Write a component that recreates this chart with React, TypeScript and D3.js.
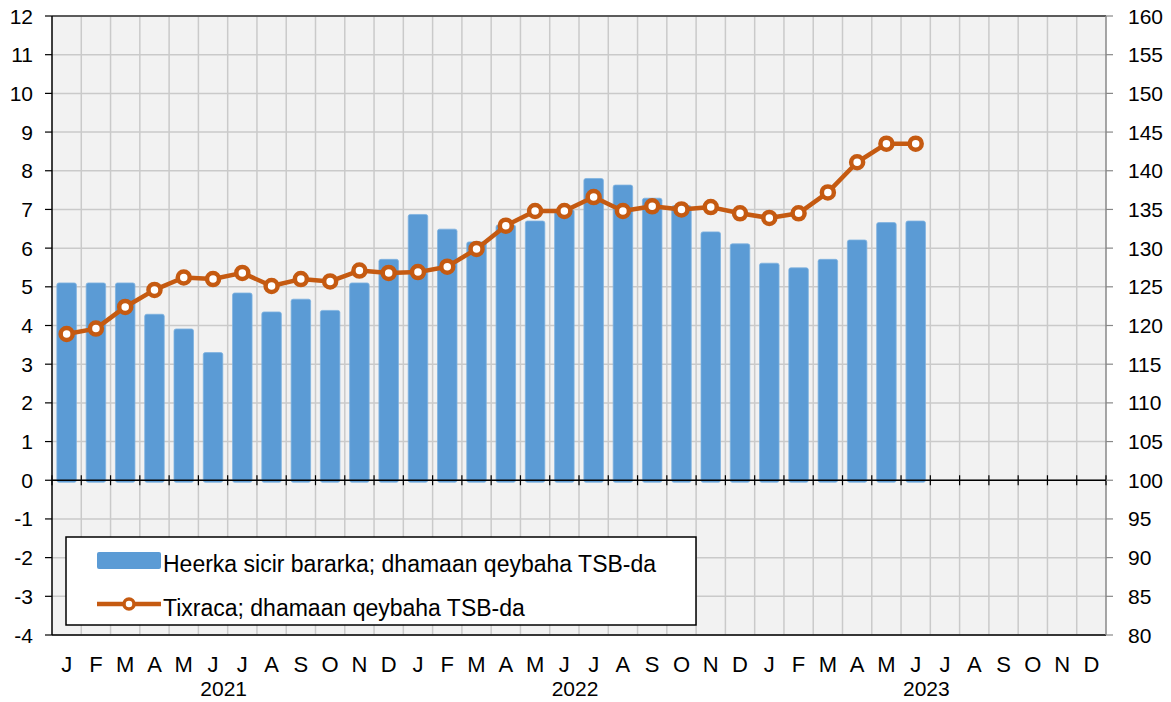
import React from "react";
import * as d3 from "d3";

const months = ["J", "F", "M", "A", "M", "J", "J", "A", "S", "O", "N", "D"];
const years = ["2021", "2022", "2023"];

// Heerka sicir bararka (left axis, %)
const inflation = [
  5.1, 5.1, 5.1, 4.29, 3.91, 3.3, 4.84, 4.35, 4.68, 4.39, 5.1, 5.71,
  6.87, 6.49, 6.16, 6.6, 6.7, 7.0, 7.8, 7.63, 7.29, 7.1, 6.42, 6.11,
  5.61, 5.49, 5.71, 6.21, 6.66, 6.7,
];

// Tixraca (right axis, index)
const index = [
  118.9, 119.6, 122.4, 124.6, 126.2, 126.0, 126.8, 125.1, 126.0, 125.7, 127.1, 126.8,
  126.9, 127.6, 129.9, 132.9, 134.8, 134.8, 136.6, 134.8, 135.4, 135.0, 135.3, 134.5,
  133.9, 134.5, 137.2, 141.1, 143.5, 143.5,
];

const leftTicks = d3.range(-4, 13, 1);
const rightTicks = d3.range(80, 161, 5);

const W = 1171;
const H = 702;
const m = { left: 52, right: 1106, top: 16, bottom: 635 };
const font = "'Liberation Sans', Arial, sans-serif";
const barColor = "#5B9BD5";
const lineColor = "#C55A11";

export default function App() {
  const slots = years.flatMap((y) => months.map((mo) => `${mo}-${y}`));
  const x = d3
    .scaleBand<number>()
    .domain(d3.range(slots.length))
    .range([m.left, m.right]);
  const step = x.step();
  const yL = d3.scaleLinear().domain([-4, 12]).range([m.bottom, m.top]);
  const yR = d3.scaleLinear().domain([80, 160]).range([m.bottom, m.top]);
  const barW = 19.5;
  const cx = (i: number) => (x(i) as number) + step / 2;

  const line = d3
    .line<number>()
    .x((_, i) => cx(i))
    .y((d) => yR(d));

  const boundaries = d3.range(slots.length + 1).map((i) => m.left + i * step);
  const y0 = yL(0);

  return (
    <svg width={W} height={H} style={{ position: "absolute", left: 0, top: 0 }}>
      <rect x={0} y={0} width={W} height={H} fill="white" />
      <rect x={m.left} y={m.top} width={m.right - m.left} height={m.bottom - m.top} fill="#F2F2F2" />

      {/* grid */}
      {leftTicks.map((t) => (
        <line key={"h" + t} x1={m.left} x2={m.right} y1={yL(t)} y2={yL(t)} stroke="#CACACA" strokeWidth={1.5} />
      ))}
      {boundaries.slice(1, -1).map((b, i) => (
        <line key={"v" + i} x1={b} x2={b} y1={m.top} y2={m.bottom} stroke="#CACACA" strokeWidth={1.5} />
      ))}

      {/* bars */}
      {inflation.map((v, i) => (
        <rect
          key={"b" + i}
          x={cx(i) - barW / 2}
          y={yL(v)}
          width={barW}
          height={y0 - yL(v) + 2}
          rx={2}
          fill={barColor}
          stroke="#7FB2E0"
          strokeWidth={0.8}
        />
      ))}

      {/* frame */}
      <line x1={m.left} x2={m.right} y1={m.top} y2={m.top} stroke="#333" strokeWidth={1.5} />
      <line x1={m.left} x2={m.right} y1={m.bottom} y2={m.bottom} stroke="#000" strokeWidth={1.5} />
      <line x1={m.right} x2={m.right} y1={m.top} y2={m.bottom} stroke="#888" strokeWidth={1.5} />
      <line x1={m.left} x2={m.left} y1={m.top} y2={m.bottom} stroke="#000" strokeWidth={1.5} />

      {/* zero axis */}
      <line x1={m.left} x2={m.right} y1={y0} y2={y0} stroke="#000" strokeWidth={1.5} />
      {boundaries.map((b, i) => (
        <line key={"t" + i} x1={b} x2={b} y1={y0 - 5} y2={y0 + 5} stroke="#000" strokeWidth={1.2} />
      ))}

      {/* line series */}
      <path d={line(index) || ""} fill="none" stroke={lineColor} strokeWidth={4.5} strokeLinejoin="round" />
      {index.map((v, i) => (
        <circle key={"c" + i} cx={cx(i)} cy={yR(v)} r={6} fill="white" stroke={lineColor} strokeWidth={4.5} />
      ))}

      {/* left axis */}
      {leftTicks.map((t) => (
        <g key={"l" + t}>
          <line x1={m.left - 7} x2={m.left} y1={yL(t)} y2={yL(t)} stroke="#000" strokeWidth={1.2} />
          <text x={33} y={yL(t)} dy="0.36em" textAnchor="end" fontFamily={font} fontSize={21} fill="#000">
            {t}
          </text>
        </g>
      ))}

      {/* right axis */}
      {rightTicks.map((t) => (
        <g key={"r" + t}>
          <line x1={m.right} x2={m.right + 7} y1={yR(t)} y2={yR(t)} stroke="#888" strokeWidth={1.2} />
          <text x={1128} y={yR(t)} dy="0.36em" textAnchor="start" fontFamily={font} fontSize={21} fill="#000">
            {t}
          </text>
        </g>
      ))}

      {/* x labels */}
      {slots.map((s, i) => (
        <text key={"m" + i} x={cx(i)} y={672} textAnchor="middle" fontFamily={font} fontSize={22} fill="#000">
          {s.split("-")[0]}
        </text>
      ))}
      {years.map((yr, j) => (
        <text
          key={yr}
          x={m.left + (j * 12 + 6) * step - 4}
          y={696}
          textAnchor="middle"
          fontFamily={font}
          fontSize={21}
          fill="#000"
        >
          {yr}
        </text>
      ))}

      {/* legend */}
      <rect x={66} y={537} width={630} height={88} fill="white" stroke="#000" strokeWidth={1.5} />
      <rect x={97} y={552} width={64} height={17} rx={2} fill={barColor} />
      <text x={163} y={572} fontFamily={font} fontSize={23} fill="#000">
        Heerka sicir bararka; dhamaan qeybaha TSB-da
      </text>
      <line x1={97} x2={161} y1={604} y2={604} stroke={lineColor} strokeWidth={4.5} />
      <circle cx={129} cy={604} r={5} fill="white" stroke={lineColor} strokeWidth={3.5} />
      <text x={163} y={616} fontFamily={font} fontSize={23} fill="#000">
        Tixraca; dhamaan qeybaha TSB-da
      </text>
    </svg>
  );
}
